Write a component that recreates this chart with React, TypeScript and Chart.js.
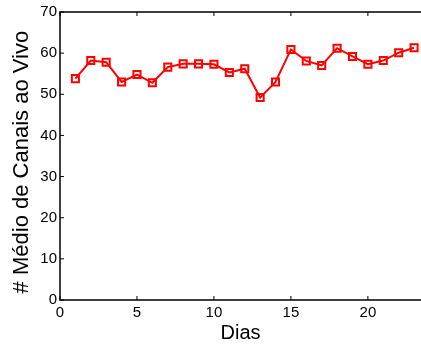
import React, { useEffect, useRef } from "react";
import { Chart, registerables } from "chart.js";

Chart.register(...registerables);

const days = [1, 2, 3, 4, 5, 6, 7, 8, 9, 10, 11, 12, 13, 14, 15, 16, 17, 18, 19, 20, 21, 22, 23];
const avgLiveChannels = [53.8, 58.2, 57.8, 53.0, 54.8, 52.8, 56.6, 57.4, 57.4, 57.3, 55.3, 56.2, 49.2, 53.0, 60.9, 58.1, 57.0, 61.2, 59.2, 57.3, 58.2, 60.1, 61.3];
const xTicks = [0, 5, 10, 15, 20];
const yTicks = [0, 10, 20, 30, 40, 50, 60, 70];
const xTitle = "Dias";
const yTitle = "# Médio de Canais ao Vivo";

const framePlugin = {
  id: "frame",
  afterDraw(chart: any) {
    const { ctx, chartArea: a, scales } = chart;
    ctx.save();
    ctx.strokeStyle = "#000";
    ctx.lineWidth = 1.5;
    ctx.beginPath();
    ctx.moveTo(a.right + 2, a.top);
    ctx.lineTo(a.left, a.top);
    ctx.lineTo(a.left, a.bottom);
    ctx.lineTo(a.right + 2, a.bottom);
    ctx.stroke();
    ctx.lineWidth = 1;
    const tl = 4;
    ctx.beginPath();
    for (const v of xTicks) {
      const x = scales.x.getPixelForValue(v);
      ctx.moveTo(x, a.bottom);
      ctx.lineTo(x, a.bottom - tl);
      ctx.moveTo(x, a.top);
      ctx.lineTo(x, a.top + tl);
    }
    for (const v of yTicks) {
      const y = scales.y.getPixelForValue(v);
      ctx.moveTo(a.left, y);
      ctx.lineTo(a.left + tl, y);
    }
    ctx.stroke();
    ctx.restore();
  },
};

export default function App() {
  const ref = useRef<HTMLCanvasElement>(null);
  useEffect(() => {
    const chart = new Chart(ref.current!, {
      type: "line",
      data: {
        labels: days,
        datasets: [
          {
            data: days.map((d, i) => ({ x: d, y: avgLiveChannels[i] })),
            borderColor: "#ff0000",
            borderWidth: 2,
            pointStyle: "rect",
            pointRadius: 5,
            pointBorderWidth: 2,
            pointBackgroundColor: "rgba(0,0,0,0)",
            pointBorderColor: "#ff0000",
            tension: 0,
            clip: false,
          },
        ],
      },
      options: {
        animation: false,
        responsive: false,
        maintainAspectRatio: false,
        layout: { autoPadding: false, padding: { left: 9, right: 0, top: 12, bottom: 0 } },
        plugins: { legend: { display: false }, tooltip: { enabled: false } },
        scales: {
          x: {
            type: "linear",
            min: 0,
            max: 23.45,
            afterBuildTicks: (s: any) => {
              s.ticks = xTicks.map((v) => ({ value: v }));
            },
            afterFit: (s: any) => {
              s.height = 45;
              s.paddingLeft = 0;
              s.paddingRight = 0;
            },
            grid: { display: false, drawTicks: false },
            border: { display: false },
            ticks: { color: "#000", font: { family: "Liberation Sans", size: 15 }, padding: 4, maxRotation: 0 },
            title: { display: true, text: xTitle, color: "#000", font: { family: "Liberation Sans", size: 20 }, padding: 0 },
          },
          y: {
            type: "linear",
            min: 0,
            max: 70,
            afterBuildTicks: (s: any) => {
              s.ticks = yTicks.map((v) => ({ value: v }));
            },
            afterFit: (s: any) => {
              s.width = 51;
              s.paddingTop = 0;
              s.paddingBottom = 0;
            },
            grid: { display: false, drawTicks: false },
            border: { display: false },
            ticks: { color: "#000", font: { family: "Liberation Sans", size: 15 }, padding: 3 },
            title: { display: true, text: yTitle + "  ", color: "#000", font: { family: "Liberation Sans", size: 22 }, padding: { top: 0, bottom: 2 } },
          },
        },
      },
      plugins: [framePlugin],
    });
    return () => chart.destroy();
  }, []);
  return (
    <div style={{ position: "fixed", left: 0, top: 0, width: 421, height: 345, background: "#fff" }}>
      <canvas ref={ref} width={421} height={345} />
    </div>
  );
}
